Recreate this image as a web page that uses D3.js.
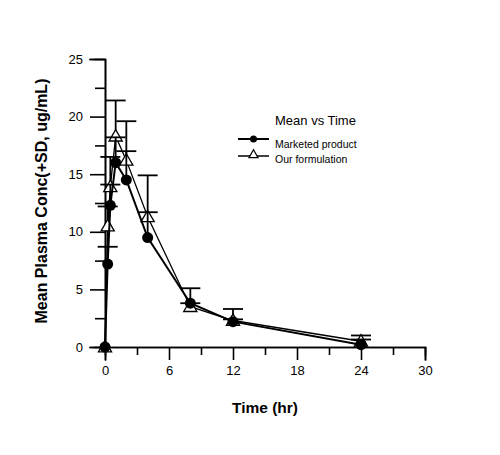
<!DOCTYPE html>
<html>
<head>
<meta charset="utf-8">
<script src="https://cdn.jsdelivr.net/npm/d3@7"></script>
<style>
body{margin:0;background:#fff;}
text{font-family:Arial,"Liberation Sans",sans-serif;}
.axis path,.axis line{stroke:#000;stroke-width:1.6;}
.axis text{font-size:13px;fill:#000;}
</style>
</head>
<body>
<div id="canvas"></div>
<script>
// data
var times = [0, 0.25, 0.5, 1, 2, 4, 8, 12, 24];
var marketedMean = [0, 7.2, 12.3, 16.0, 14.5, 9.5, 3.8, 2.2, 0.2];
var marketedSD   = [0, 1.5, 1.8, 2.2, 2.5, 2.2, 1.3, 0.2, 0.45];
var oursMean = [0, 10.5, 13.9, 18.3, 16.2, 11.3, 3.5, 2.3, 0.5];
var oursSD   = [0, 1.7, 2.6, 3.1, 3.4, 3.6, 0.3, 1.0, 0.5];
var xTicks = [0, 6, 12, 18, 24, 30];
var yTicks = [0, 5, 10, 15, 20, 25];
var seriesNames = ['Marketed product', 'Our formulation'];

var outerWidth = 500, outerHeight = 455;
var m = {t:59, r:75, b:108, l:105};
var w = outerWidth - m.l - m.r,
    h = outerHeight - m.t - m.b;

var svg = d3.select('#canvas').append('svg')
    .attr('width', outerWidth)
    .attr('height', outerHeight);
var plot = svg.append('g')
    .attr('transform', 'translate(' + m.l + ',' + m.t + ')');

var scaleX = d3.scaleLinear().domain([0, 30]).range([0, w]),
    scaleY = d3.scaleLinear().domain([0, 25]).range([h, 0]);

// axes: major + minor ticks
var axisX = d3.axisBottom(scaleX).tickValues(xTicks).tickSize(13).tickPadding(6),
    axisXMinor = d3.axisBottom(scaleX).tickValues([3, 9, 15, 21, 27]).tickSize(8).tickFormat(''),
    axisY = d3.axisLeft(scaleY).tickValues(yTicks).tickSize(15).tickPadding(7),
    axisYMinor = d3.axisLeft(scaleY).tickValues([2.5, 7.5, 12.5, 17.5, 22.5]).tickSize(10).tickFormat('');

plot.append('g').attr('class', 'axis').attr('transform', 'translate(0,' + h + ')').call(axisX);
plot.append('g').attr('class', 'axis').attr('transform', 'translate(0,' + h + ')').call(axisXMinor);
plot.append('g').attr('class', 'axis').call(axisY);
plot.append('g').attr('class', 'axis').call(axisYMinor);
plot.selectAll('.axis path').attr('stroke-linecap', 'square');

// axis titles
svg.append('text')
    .attr('x', m.l + scaleX(15)).attr('y', 413)
    .attr('text-anchor', 'middle')
    .style('font-size', '15.5px').style('font-weight', 'bold')
    .text('Time (hr)');
svg.append('text')
    .attr('transform', 'translate(47,' + (m.t + h / 2 - 2) + ') rotate(-90)')
    .attr('text-anchor', 'middle')
    .style('font-size', '16px').style('font-weight', 'bold')
    .text('Mean Plasma Conc(+SD, ug/mL)');

var rows = times.map(function(t, i){
    return {t:t, m:marketedMean[i], ms:marketedSD[i], o:oursMean[i], os:oursSD[i]};
});

var tri = d3.symbol().type(d3.symbolTriangle).size(75);

function drawSeries(key, sdKey, lw, marker){
    var line = d3.line()
        .x(function(d){return scaleX(d.t);})
        .y(function(d){return scaleY(d[key]);});
    plot.append('path')
        .datum(rows)
        .attr('fill', 'none')
        .attr('stroke', '#000')
        .attr('stroke-width', lw)
        .attr('d', line);

    var eb = plot.append('g').selectAll('g')
        .data(rows.filter(function(d){return d[sdKey] > 0;}))
        .enter().append('g');
    eb.append('line')
        .attr('x1', function(d){return scaleX(d.t);})
        .attr('x2', function(d){return scaleX(d.t);})
        .attr('y1', function(d){return scaleY(d[key]);})
        .attr('y2', function(d){return scaleY(d[key] + d[sdKey]);})
        .attr('stroke', '#000').attr('stroke-width', 1.8);
    eb.append('line')
        .attr('x1', function(d){return scaleX(d.t) - 10;})
        .attr('x2', function(d){return scaleX(d.t) + 10;})
        .attr('y1', function(d){return scaleY(d[key] + d[sdKey]);})
        .attr('y2', function(d){return scaleY(d[key] + d[sdKey]);})
        .attr('stroke', '#000').attr('stroke-width', 1.8);

    var pts = plot.append('g').selectAll('.pt')
        .data(rows).enter();
    if (marker === 'circle') {
        pts.append('circle')
            .attr('cx', function(d){return scaleX(d.t);})
            .attr('cy', function(d){return scaleY(d[key]);})
            .attr('r', 5.5)
            .attr('fill', '#000');
    } else {
        pts.append('path')
            .attr('d', tri)
            .attr('transform', function(d){return 'translate(' + scaleX(d.t) + ',' + (scaleY(d[key]) + 1) + ')';})
            .attr('fill', '#fff')
            .attr('stroke', '#000')
            .attr('stroke-width', 1.3);
    }
}

drawSeries('o', 'os', 1.3, 'triangle');
drawSeries('m', 'ms', 2, 'circle');

// legend
var lg = svg.append('g');
lg.append('text').attr('x', 275).attr('y', 125)
    .style('font-size', '13px').text('Mean vs Time');
seriesNames.forEach(function(name, i){
    var y = 139 + i * 17;
    lg.append('line').attr('x1', 238).attr('x2', 269).attr('y1', y).attr('y2', y)
        .attr('stroke', '#000').attr('stroke-width', i === 0 ? 2 : 1.5);
    if (i === 0) {
        lg.append('circle').attr('cx', 253.5).attr('cy', y).attr('r', 3.5).attr('fill', '#000');
    } else {
        lg.append('path').attr('d', d3.symbol().type(d3.symbolTriangle).size(35))
            .attr('transform', 'translate(253.5,' + (y - 1) + ')')
            .attr('fill', '#fff').attr('stroke', '#000').attr('stroke-width', 1.2);
    }
    lg.append('text').attr('x', 275).attr('y', y + 9 - i * 2)
        .style('font-size', '10.5px').text(name);
});
</script>
</body>
</html>
